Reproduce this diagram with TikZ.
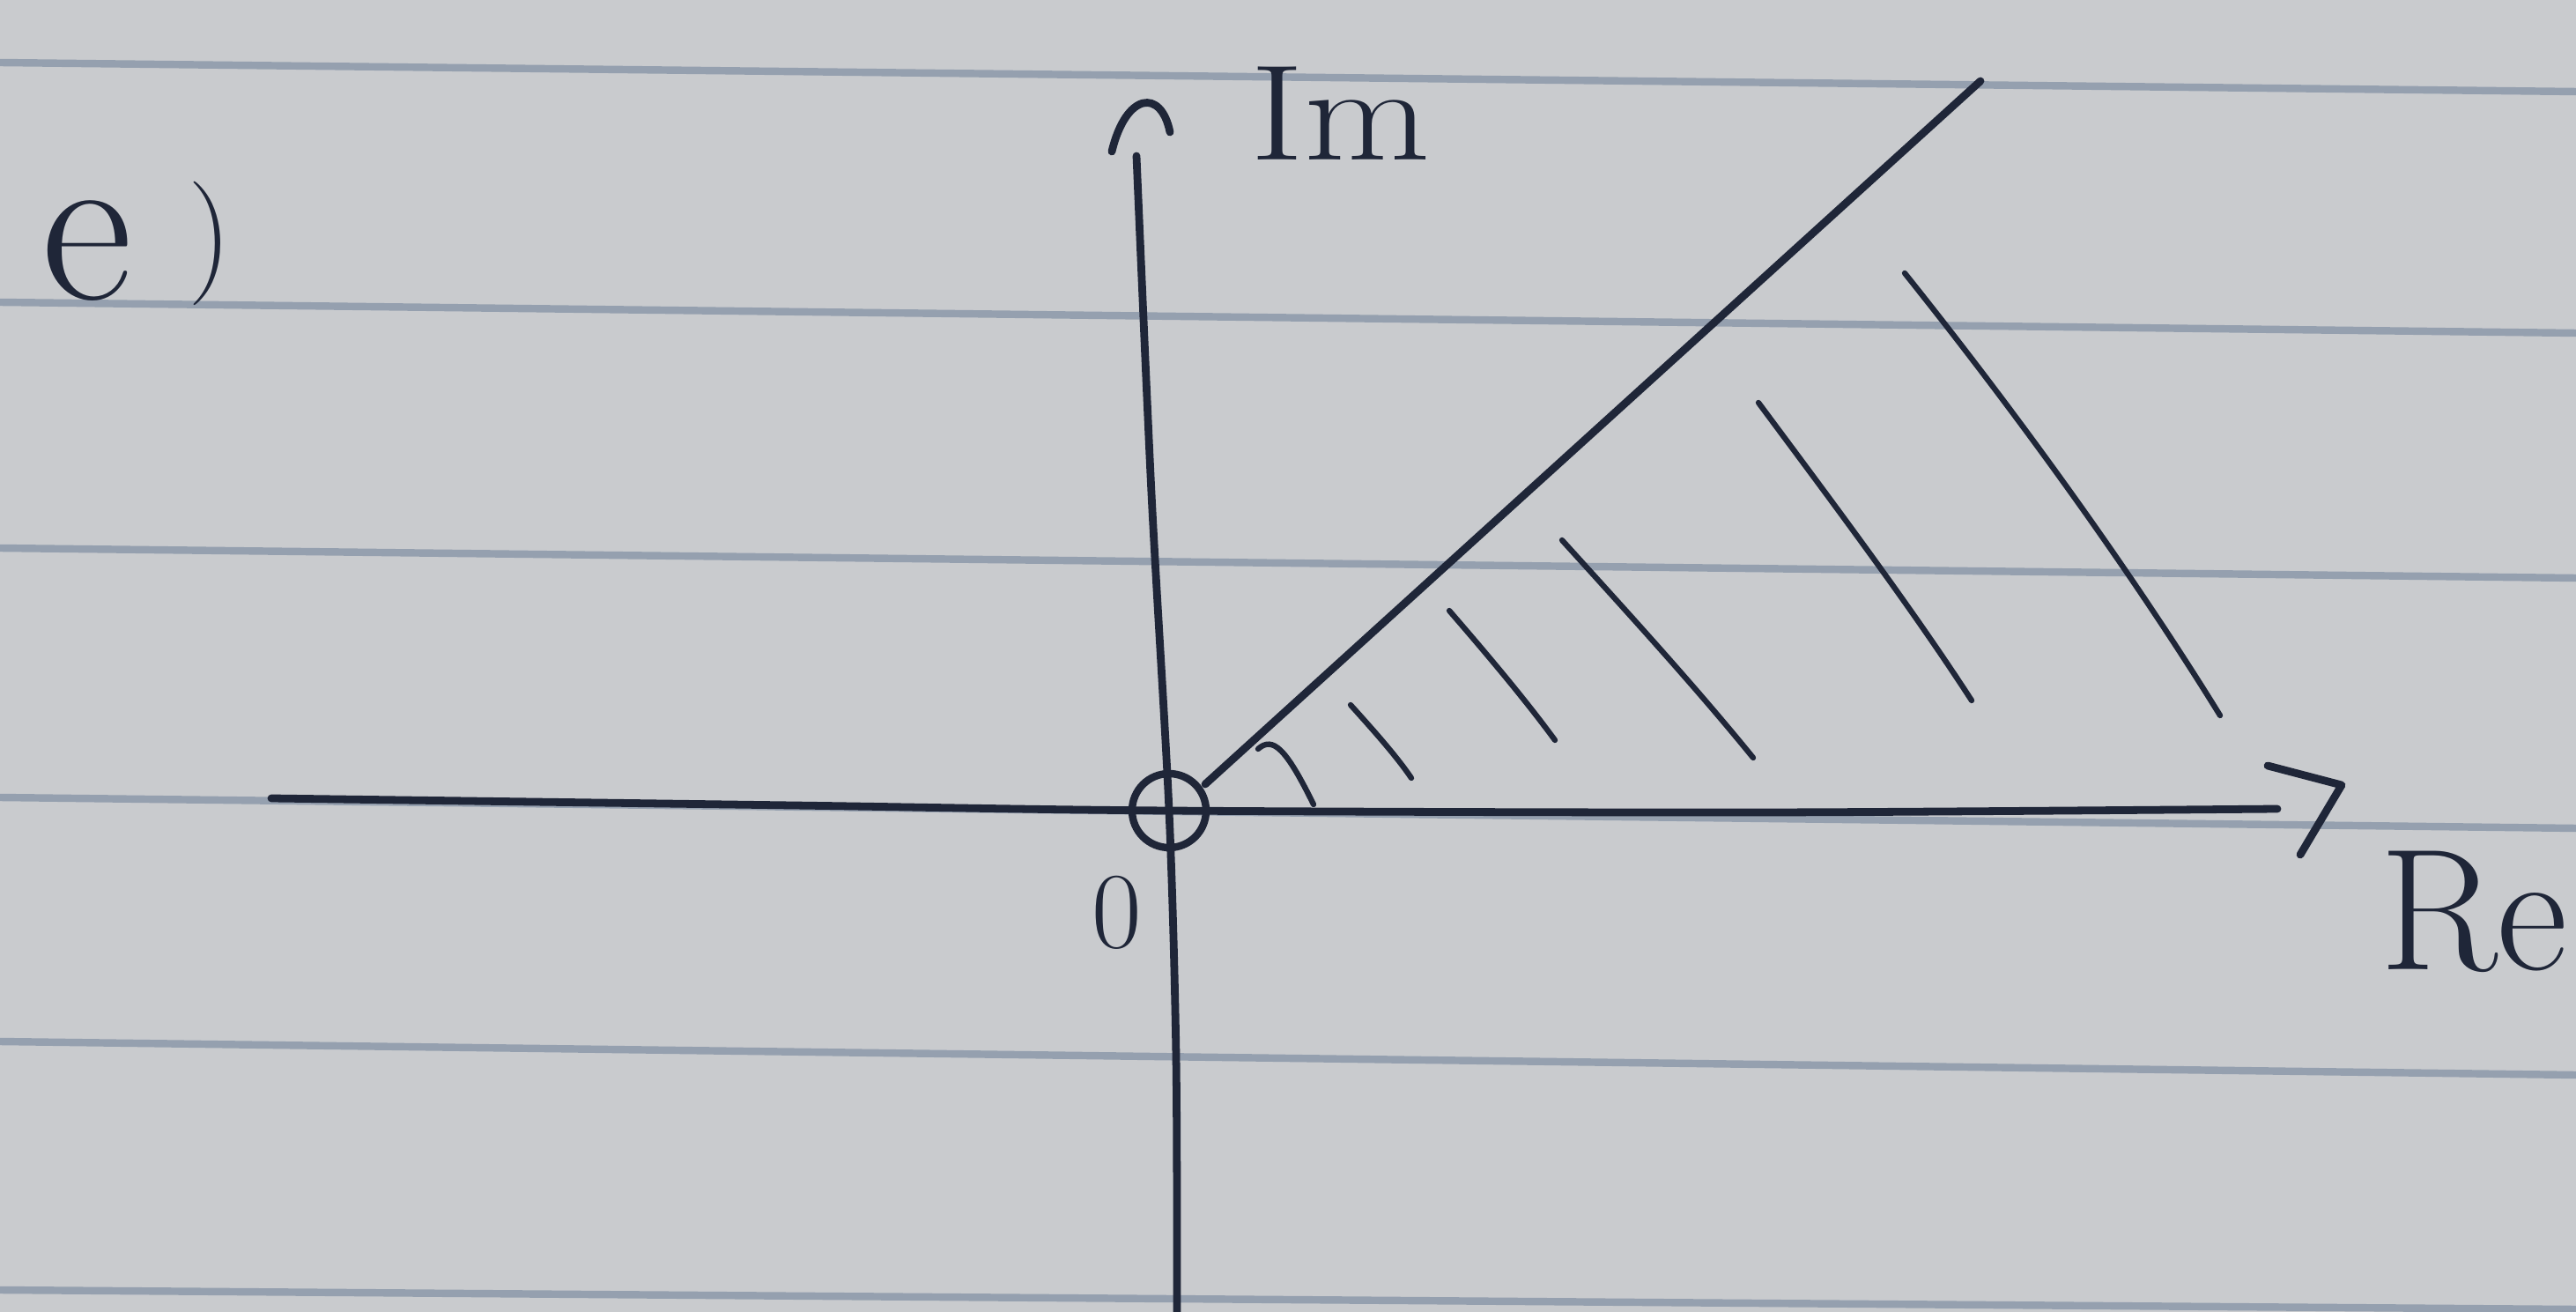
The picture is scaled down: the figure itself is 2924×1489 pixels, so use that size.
\documentclass[tikz,border=0pt]{standalone}
\usepackage{xcolor}
\usepackage{tikz}
\usetikzlibrary{positioning}
\definecolor{paper}{HTML}{C9CBCE}
\definecolor{ruleline}{HTML}{95A0AF}
\definecolor{ink}{HTML}{1F2638}

\begin{document}
\begin{tikzpicture}[x=0.1mm, y=-0.1mm]
    \fill[paper] (0,0) rectangle (2924,1489);
    \useasboundingbox (0,0) rectangle (2924,1489);

    % ruled paper
    \foreach \ya/\yb in {71/104, 343/378, 622/656, 905/940, 1182/1220, 1464/1486} {
        \draw[ruleline, line width=2.4pt] (0,\ya) -- (2924,\yb);
    }

    % axes
    \coordinate (O) at (1327,920);
    \coordinate (reL) at (308,906);
    \coordinate (reR) at (2585,918);
    \coordinate (imB) at (1336,1489);
    \coordinate (imT) at (1290,177);

    \draw[ink, line width=2.5pt, line cap=round] plot[smooth] coordinates {(reL) (900,914) (O) (2000,922) (reR)};
    \draw[ink, line width=2.5pt, line cap=round] plot[smooth] coordinates {(imB) (1335,1200) (O) (1307,560) (imT)};

    % arrow tips
    \draw[ink, line width=2.5pt, line cap=round, line join=round] (2574,869) -- (2658,891) -- (2611,970);
    \draw[ink, line width=2.5pt, line cap=round] (1262,172) .. controls (1278,105) and (1318,100) .. (1328,150);

    \draw[ink, line width=2.4pt] (O) circle[radius=4.2mm];

    % boundary of the region
    \coordinate (rayS) at (1368,890);
    \coordinate (rayE) at (2248,92);
    \draw[ink, line width=2.5pt, line cap=round] (rayS) -- (rayE);

    % hatching
    \draw[ink, line width=1.8pt, line cap=round] (1428,850) .. controls (1445,835) and (1460,850) .. (1491,913);
    \draw[ink, line width=1.8pt, line cap=round] (1533,800) .. controls (1560,830) and (1585,858) .. (1602,883);
    \draw[ink, line width=1.8pt, line cap=round] (1645,693) .. controls (1690,745) and (1732,795) .. (1765,840);
    \draw[ink, line width=1.8pt, line cap=round] (1773,613) .. controls (1850,698) and (1925,780) .. (1990,860);
    \draw[ink, line width=1.8pt, line cap=round] (1996,457) .. controls (2080,570) and (2170,690) .. (2238,795);
    \draw[ink, line width=1.8pt, line cap=round] (2162,310) .. controls (2290,470) and (2420,650) .. (2520,812);

    % labels
    \node[ink, font=\fontsize{44}{52}\selectfont, xscale=1.2, anchor=base] (imlbl) at (1522,182) {Im};
    \node[ink, font=\fontsize{56}{66}\selectfont, anchor=base] (relbl) at (2808,1100) {Re};
    \node[ink, font=\fontsize{35}{42}\selectfont, anchor=base] (zero) at (1268,1075) {0};
    \node[ink, font=\fontsize{72}{80}\selectfont, anchor=base west] (part) at (35,340) {e\hspace{0.25em}\raisebox{8pt}{\fontsize{40}{48}\selectfont)}};
\end{tikzpicture}
\end{document}
